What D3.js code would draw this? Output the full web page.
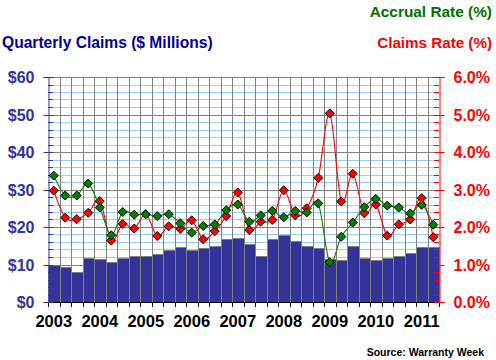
<!DOCTYPE html>
<html><head><meta charset="utf-8">
<script src="https://cdn.jsdelivr.net/npm/d3@7"></script>
<style>
html,body{margin:0;padding:0;background:#fff;}
svg{display:block;font-family:"Liberation Sans",Arial,sans-serif;font-weight:bold;}
</style></head>
<body><svg id="c" width="496" height="360"></svg>
<script>
const years = ["2003","2004","2005","2006","2007","2008","2009","2010","2011"];
const quarters = [];
years.forEach(y => ["Q1","Q2","Q3","Q4"].forEach(q => quarters.push(y + " " + q)));
quarters.length = 34;
const claims = [9.8, 9.25, 7.9, 11.65, 11.4, 10.6, 11.8, 12.2, 12.4, 12.7, 13.8, 14.8,
  13.9, 14.3, 14.85, 16.7, 17.0, 15.5, 12.2, 16.7, 17.8, 16.4, 14.85, 14.3,
  11.5, 11.1, 14.85, 11.8, 11.1, 11.8, 12.2, 13.2, 14.6, 14.6];
const accrualRate = [3.37, 2.84, 2.84, 3.16, 2.52, 1.78, 2.40, 2.33, 2.34, 2.29, 2.34, 2.10,
  1.85, 2.03, 2.07, 2.45, 2.60, 2.14, 2.31, 2.43, 2.26, 2.43, 2.39, 2.63,
  1.06, 1.74, 2.12, 2.53, 2.75, 2.57, 2.52, 2.36, 2.59, 2.06];
const claimsRate = [2.97, 2.25, 2.21, 2.38, 2.69, 1.64, 2.08, 1.96, 2.34, 1.76, 2.02, 1.95,
  2.18, 1.67, 1.89, 2.29, 2.92, 1.92, 2.14, 2.19, 2.98, 2.31, 2.50, 3.31,
  5.03, 2.68, 3.42, 2.37, 2.60, 1.77, 2.07, 2.20, 2.77, 1.73];
const leftTicks = [0, 10, 20, 30, 40, 50, 60];
const rightTicks = [0, 1, 2, 3, 4, 5, 6];

const svg = d3.select("#c");
const L = 48, R = 439, T = 77, B = 302;
const x = d3.scaleBand().domain(d3.range(quarters.length)).range([L, R]).padding(0);
const yL = d3.scaleLinear().domain([0, 60]).range([B, T]);
const yR = d3.scaleLinear().domain([0, 6]).range([B, T]);
const px = v => Math.round(v) + 0.5;

// gridlines
const minor = d3.range(2, 60, 2).filter(v => v % 10 !== 0);
svg.append("g").selectAll("line").data(minor).join("line")
  .attr("x1", L).attr("x2", R).attr("y1", d => px(yL(d))).attr("y2", d => px(yL(d)))
  .attr("stroke", "#99ccff");
svg.append("g").selectAll("line").data(d3.range(1, quarters.length)).join("line")
  .attr("x1", d => px(x(d))).attr("x2", d => px(x(d))).attr("y1", T).attr("y2", B)
  .attr("stroke", "#808080");
svg.append("g").selectAll("line").data(leftTicks.slice(1)).join("line")
  .attr("x1", L).attr("x2", R).attr("y1", d => px(yL(d))).attr("y2", d => px(yL(d)))
  .attr("stroke", "#808080");

// bars
svg.append("g").selectAll("rect").data(claims).join("rect")
  .attr("x", (d, i) => px(x(i))).attr("width", (d, i) => px(x(i) + x.bandwidth()) - px(x(i)))
  .attr("y", d => px(yL(d))).attr("height", d => px(yL(0)) - px(yL(d)))
  .attr("fill", "#333399").attr("stroke", "#808080").attr("shape-rendering", "crispEdges");

// bottom axis
svg.append("line").attr("x1", L).attr("x2", R).attr("y1", B + 0.5).attr("y2", B + 0.5).attr("stroke", "#000");
svg.append("g").selectAll("line").data(d3.range(0, quarters.length + 1)).join("line")
  .attr("x1", d => px(d < quarters.length ? x(d) : R)).attr("x2", d => px(d < quarters.length ? x(d) : R))
  .attr("y1", B).attr("y2", B + 5).attr("stroke", "#000");
svg.append("g").selectAll("text").data(years).join("text")
  .attr("x", (d, i) => x(i * 4) + x.bandwidth() / 2).attr("y", 327)
  .attr("text-anchor", "middle").attr("font-size", 16.5).attr("fill", "#000").text(d => d);

// left axis
const gl = svg.append("g").attr("transform", `translate(${L + 0.5},0)`)
  .call(d3.axisLeft(yL).tickValues(leftTicks).tickFormat(d => "$" + d).tickSize(5).tickPadding(9));
gl.select(".domain").attr("stroke", "#333399");
gl.selectAll(".tick line").attr("stroke", "#333399").attr("x2", -5).attr("x1", 5);
gl.selectAll(".tick").attr("transform", d => `translate(0,${px(yL(d))})`);
gl.selectAll(".tick text").attr("fill", "#333399").attr("font-size", 16).attr("font-family", null).attr("font-weight", "bold");
svg.append("g").selectAll("line").data(minor).join("line")
  .attr("x1", L).attr("x2", L + 5).attr("y1", d => px(yL(d))).attr("y2", d => px(yL(d)))
  .attr("stroke", "#333399");

// right axis
const gr = svg.append("g").attr("transform", `translate(${R + 0.5},0)`)
  .call(d3.axisRight(yR).tickValues(rightTicks).tickFormat(d => d.toFixed(1) + "%").tickSize(5).tickPadding(9));
gr.select(".domain").attr("stroke", "#ff0000");
gr.selectAll(".tick line").attr("stroke", "#ff0000").attr("x1", -5).attr("x2", 5);
gr.selectAll(".tick").attr("transform", d => `translate(0,${px(yR(d))})`);
gr.selectAll(".tick text").attr("fill", "#ff0000").attr("font-size", 16).attr("font-family", null).attr("font-weight", "bold");
svg.append("g").selectAll("line").data(minor).join("line")
  .attr("x1", R - 5).attr("x2", R).attr("y1", d => px(yL(d))).attr("y2", d => px(yL(d)))
  .attr("stroke", "#ff0000");

// lines
const cx = i => x(i) + x.bandwidth() / 2;
const line = d3.line().x((d, i) => cx(i)).y(d => yR(d)).curve(d3.curveCardinal.tension(0));
const diamond = (sel, data, fill) => sel.selectAll("path").data(data).join("path")
  .attr("d", (d, i) => { const X = cx(i), Y = yR(d), s = 4.5; return `M${X},${Y - s}L${X + s},${Y}L${X},${Y + s}L${X - s},${Y}Z`; })
  .attr("fill", fill).attr("stroke", "#000").attr("stroke-width", 1);

svg.append("path").datum(claimsRate).attr("d", line).attr("fill", "none").attr("stroke", "#ff0000").attr("stroke-width", 1.1);
diamond(svg.append("g"), claimsRate, "#ff0000");
svg.append("path").datum(accrualRate).attr("d", line).attr("fill", "none").attr("stroke", "#008000").attr("stroke-width", 1.1);
diamond(svg.append("g"), accrualRate, "#008000");

// titles
svg.append("text").attr("x", 2).attr("y", 48).attr("font-size", 15.6).attr("fill", "#000099")
  .text("Quarterly Claims ($ Millions)");
svg.append("text").attr("x", 492).attr("y", 17).attr("text-anchor", "end").attr("font-size", 15.4).attr("fill", "#007000")
  .text("Accrual Rate (%)");
svg.append("text").attr("x", 492).attr("y", 48).attr("text-anchor", "end").attr("font-size", 15.2).attr("fill", "#ff0000")
  .text("Claims Rate (%)");
svg.append("text").attr("x", 484).attr("y", 356).attr("text-anchor", "end").attr("font-size", 10.5)
  .attr("fill", "#000").text("Source: Warranty Week");
</script></body></html>
